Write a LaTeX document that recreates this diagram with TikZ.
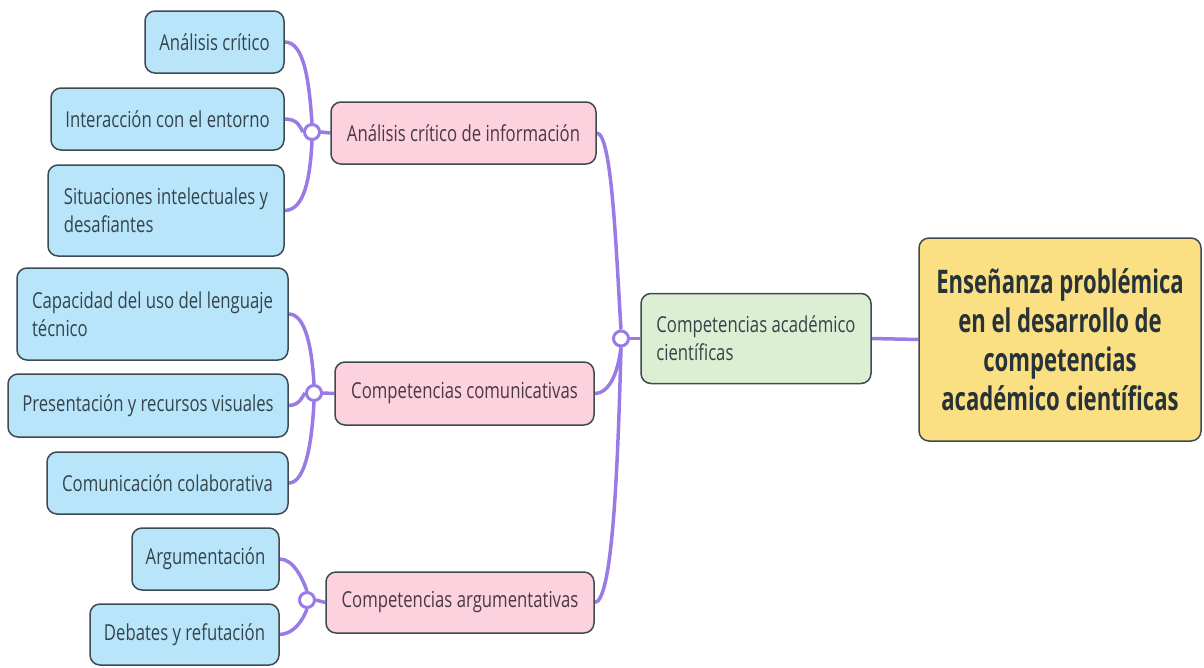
\documentclass[tikz,border=0pt]{standalone}
\usepackage{fontspec}
\setmainfont[FakeStretch=0.76]{Open Sans}
\newfontfamily\titlefont[FakeStretch=0.68]{Open Sans}
\usetikzlibrary{backgrounds}
\definecolor{linecol}{HTML}{9A7BE6}
\definecolor{bordercol}{HTML}{3E4A52}
\definecolor{bluefill}{HTML}{B9E5FB}
\definecolor{pinkfill}{HTML}{FCD2DE}
\definecolor{greenfill}{HTML}{DCEFD2}
\definecolor{yellowfill}{HTML}{FBE083}
\definecolor{txtcol}{HTML}{34444C}
\definecolor{pinktxt}{HTML}{4A3844}
\begin{document}
\begin{tikzpicture}[x=1pt,y=-1pt,
  box/.style={draw=bordercol, line width=1.5pt, rounded corners=10pt, inner sep=0pt,
    align=left, text=txtcol, font=\fontsize{22}{28}\selectfont},
  bluebox/.style={box, fill=bluefill},
  pinkbox/.style={box, fill=pinkfill, text=pinktxt},
  greenbox/.style={box, fill=greenfill},
  mainbox/.style={box, fill=yellowfill, align=center, text=txtcol!75!black,
    font=\titlefont\bfseries\fontsize{32.5}{39}\selectfont},
  hub/.style={circle, draw=linecol, line width=3pt, fill=white, minimum size=15pt, inner sep=0pt},
  conn/.style={draw=linecol, line width=3.5pt}
]
\useasboundingbox (0,0) rectangle (1204,667);

% leaf boxes
\node[bluebox, minimum width=139pt, minimum height=62pt] (b1) at (214.5,42) {Análisis crítico};
\node[bluebox, minimum width=233pt, minimum height=62pt] (b2) at (167.5,119) {Interacción con el entorno};
\node[bluebox, minimum width=236pt, minimum height=91pt] (b3) at (166,210.5) {Situaciones intelectuales y\\desafiantes};
\node[bluebox, minimum width=271pt, minimum height=92pt] (b4) at (152.5,314) {Capacidad del uso del lenguaje\\técnico};
\node[bluebox, minimum width=280pt, minimum height=63pt] (b5) at (148,405.5) {Presentación y recursos visuales};
\node[bluebox, minimum width=241pt, minimum height=62pt] (b6) at (167.5,483) {Comunicación colaborativa};
\node[bluebox, minimum width=147pt, minimum height=62pt] (b7) at (205.5,559) {Argumentación};
\node[bluebox, minimum width=189pt, minimum height=61pt] (b8) at (184.5,634.5) {Debates y refutación};

% category boxes
\node[pinkbox, minimum width=265pt, minimum height=62pt] (p1) at (463.5,133) {Análisis crítico de información};
\node[pinkbox, minimum width=259pt, minimum height=63pt] (p2) at (464.5,393.5) {Competencias comunicativas};
\node[pinkbox, minimum width=268pt, minimum height=61pt] (p3) at (460,602.5) {Competencias argumentativas};

% green and main
\node[greenbox, minimum width=230pt, minimum height=90pt] (g) at (756,338.5) {Competencias académico\\científicas};
\node[mainbox, minimum width=282pt, minimum height=203pt] (m) at (1060,339.5) {Enseñanza problémica\\en el desarrollo de\\competencias\\académico científicas};

% hubs
\node[hub] (c1) at (312,132) {};
\node[hub] (c2) at (314,393) {};
\node[hub] (c3) at (307,600) {};
\node[hub] (c4) at (621,338.5) {};

\begin{scope}[on background layer]
  \fill[white] (0,0) rectangle (1204,667);
  % group 1
  \draw[conn] (b1.east) .. controls (304,42) and (309,80) .. (c1.north);
  \draw[conn] (b2.east) .. controls (298,119) and (300,127) .. (c1.west);
  \draw[conn] (b3.east) .. controls (304,210) and (310,180) .. (c1.south);
  \draw[conn] (c1.east) -- (p1.west);
  % group 2
  \draw[conn] (b4.east) .. controls (306,314) and (312,350) .. (c2.north);
  \draw[conn] (b5.east) .. controls (300,405) and (302,397) .. (c2.west);
  \draw[conn] (b6.east) .. controls (306,483) and (312,440) .. (c2.south);
  \draw[conn] (c2.east) -- (p2.west);
  % group 3
  \draw[conn] (b7.east) .. controls (294,559) and (303,580) .. (c3.north);
  \draw[conn] (b8.east) .. controls (294,634) and (303,620) .. (c3.south);
  \draw[conn] (c3.east) -- (p3.west);
  % group 4
  \draw[conn] (p1.east) .. controls (612,133) and (616,250) .. (c4.north);
  \draw[conn] (p2.east) .. controls (610,393) and (618,372) .. (c4.south);
  \draw[conn] (p3.east) .. controls (613,602) and (618,460) .. (c4.south);
  \draw[conn] (c4.east) -- (g.west);
  \draw[conn] (g.east) -- (m.west);
\end{scope}
\end{tikzpicture}
\end{document}
